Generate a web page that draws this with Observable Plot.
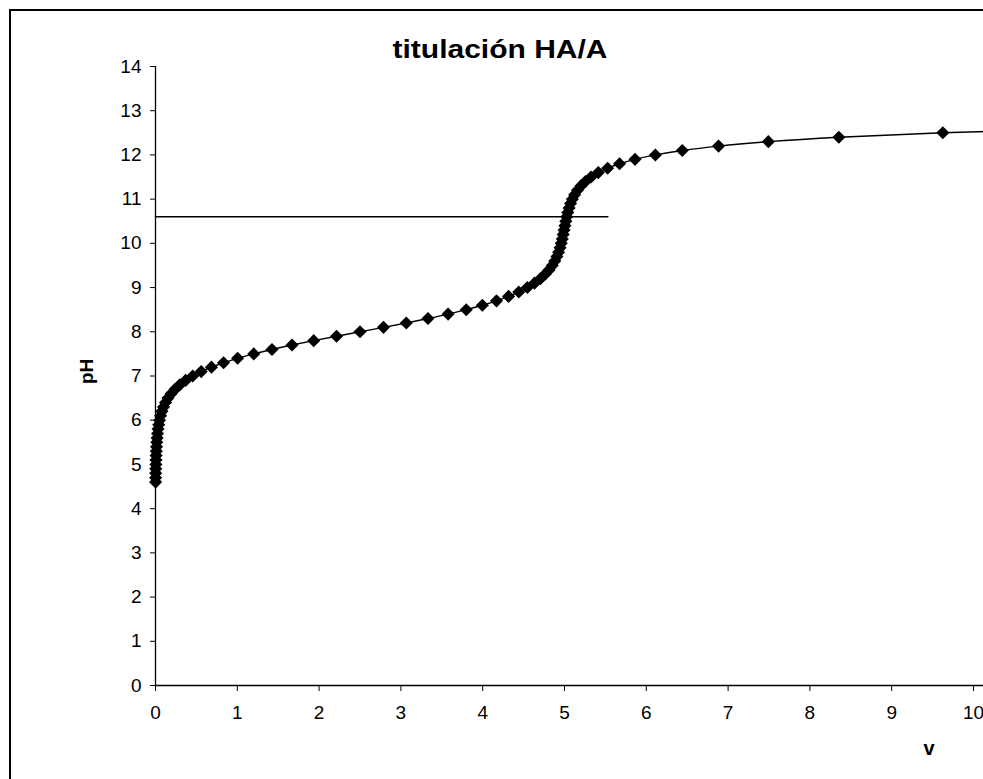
<!DOCTYPE html>
<html>
<head>
<meta charset="utf-8">
<script src="https://cdn.jsdelivr.net/npm/d3@7"></script>
<script src="https://cdn.jsdelivr.net/npm/@observablehq/plot@0.6"></script>
<style>
  html, body { margin: 0; padding: 0; background: #fff; overflow: hidden; width: 983px; height: 779px; }
  #frame { position: absolute; left: 9px; top: 9px; width: 1200px; height: 900px; border: 2px solid #000; box-sizing: border-box; }
  #title { position: absolute; left: 0; width: 1000px; top: 37px; line-height: 25px; text-align: center; font-family: "Liberation Sans", Arial, sans-serif; font-weight: bold; font-size: 25px; color: #000; transform: scaleX(1.2); transform-origin: 500px 0; white-space: nowrap; }
  #chart { position: absolute; left: 0; top: 0; }
</style>
</head>
<body>
<div id="frame"></div>
<div id="chart"></div>
<div id="title">titulación HA/A</div>
<script>
// Titration data: pH and added volume v
const pH = [4.6, 4.7, 4.8, 4.9, 5.0, 5.1, 5.2, 5.3, 5.4, 5.5, 5.6, 5.7, 5.8, 5.9,
  6.0, 6.1, 6.2, 6.3, 6.4, 6.5, 6.6, 6.7, 6.8, 6.9, 7.0, 7.1, 7.2, 7.3, 7.4, 7.5,
  7.6, 7.7, 7.8, 7.9, 8.0, 8.1, 8.2, 8.3, 8.4, 8.5, 8.6, 8.7, 8.8, 8.9, 9.0, 9.1,
  9.2, 9.3, 9.4, 9.5, 9.6, 9.7, 9.8, 9.9, 10.0, 10.1, 10.2, 10.3, 10.4, 10.5, 10.6,
  10.7, 10.8, 10.9, 11.0, 11.1, 11.2, 11.3, 11.4, 11.5, 11.6, 11.7, 11.8, 11.9,
  12.0, 12.1, 12.2, 12.3, 12.4, 12.5, 12.6];
const vol = [0.001, 0.0015, 0.0024, 0.0033, 0.0045, 0.006, 0.0076, 0.0097, 0.0124,
  0.0157, 0.0197, 0.0249, 0.0313, 0.0394, 0.0495, 0.062, 0.078, 0.098, 0.123, 0.153,
  0.191, 0.239, 0.297, 0.368, 0.455, 0.559, 0.684, 0.832, 1.004, 1.201, 1.424, 1.669,
  1.934, 2.213, 2.5, 2.787, 3.066, 3.331, 3.577, 3.799, 3.996, 4.169, 4.316, 4.441,
  4.546, 4.633, 4.705, 4.763, 4.811, 4.850, 4.881, 4.907, 4.928, 4.946, 4.960, 4.973,
  4.984, 4.995, 5.005, 5.016, 5.027, 5.040, 5.056, 5.074, 5.096, 5.124, 5.158, 5.201,
  5.256, 5.325, 5.413, 5.527, 5.673, 5.862, 6.111, 6.440, 6.883, 7.492, 8.354, 9.625, 11.61];
// Horizontal reference line
const refV = [0, 5.53];
const refPH = [10.6, 10.6];
// Axis ticks
const xTicks = [0, 1, 2, 3, 4, 5, 6, 7, 8, 9, 10, 11, 12];
const yTicks = [0, 1, 2, 3, 4, 5, 6, 7, 8, 9, 10, 11, 12, 13, 14];
const titleText = "titulación HA/A";
const xLabel = "v";
const yLabel = "pH";

const pts = vol.map((v, i) => ({v, pH: pH[i]}));
const ref = refV.map((v, i) => ({v, pH: refPH[i]}));

const chart = Plot.plot({
  width: 1200,
  height: 779,
  marginLeft: 155,
  marginRight: 63.4,
  marginTop: 66,
  marginBottom: 94,
  style: {fontFamily: "'Liberation Sans', Arial, sans-serif", fontSize: "19px", color: "#000", background: "transparent", overflow: "visible"},
  x: {domain: [0, 12], ticks: xTicks, tickSize: 6, tickPadding: 14, tickFormat: d => String(d), label: null},
  y: {domain: [0, 14], ticks: yTicks, tickSize: 5, tickPadding: 9, tickFormat: d => String(d), label: null},
  marks: [
    Plot.ruleX([0], {y1: 0, y2: 14, stroke: "#000", strokeWidth: 1.3}),
    Plot.ruleY([0], {x1: 0, x2: 12, stroke: "#000", strokeWidth: 1.3}),
    Plot.line(ref, {x: "v", y: "pH", stroke: "#000", strokeWidth: 1.5}),
    Plot.line(pts, {x: "v", y: "pH", stroke: "#000", strokeWidth: 1.4, curve: "catmull-rom"}),
    Plot.dot(pts, {x: "v", y: "pH", symbol: "diamond2", r: 5.9, fill: "#000", stroke: "none"}),
    Plot.text([xLabel], {frameAnchor: "bottom-left", dx: 768, dy: 69, text: d => d, fontWeight: "bold", fontSize: 20}),
    Plot.text([yLabel], {frameAnchor: "left", dx: -69, dy: 8, rotate: -90, text: d => d, fontWeight: "bold", fontSize: 19})
  ]
});
chart.style.maxWidth = "none";
chart.style.height = "779px";
document.getElementById("chart").appendChild(chart);
document.getElementById("title").textContent = titleText;
</script>
</body>
</html>
